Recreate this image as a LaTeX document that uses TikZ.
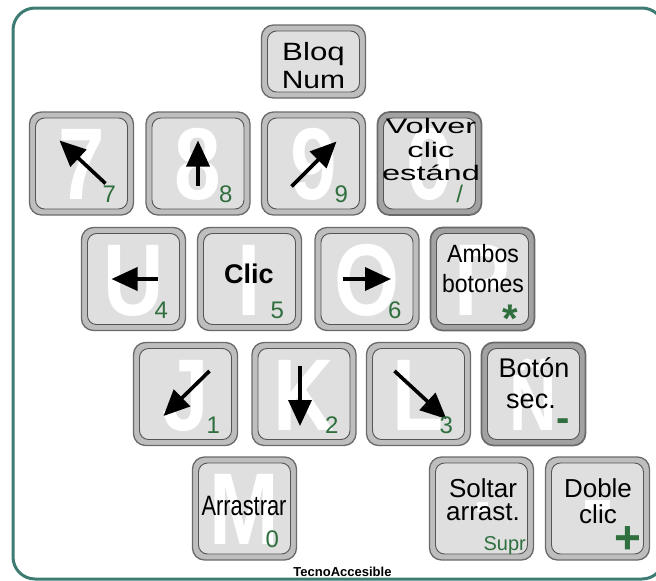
\documentclass[tikz,border=0pt]{standalone}
\usepackage{fontspec}
\setmainfont{Liberation Sans}
\usetikzlibrary{arrows.meta,calc}

\definecolor{frameteal}{HTML}{3E7B72}
\definecolor{keyedge}{HTML}{6A6A6A}
\definecolor{keyring}{HTML}{BEBEBE}
\definecolor{modering}{HTML}{A2A2A2}
\definecolor{keyface}{HTML}{DFDFDF}
\definecolor{numgreen}{HTML}{2F6F3E}

\begin{document}
\begin{tikzpicture}[x=1pt, y=-1pt,
    key/.style={draw=keyedge, fill=keyring, line width=1.3pt, rounded corners=12pt,
        minimum width=104pt, minimum height=103pt, inner sep=0pt},
    modekey/.style={key, fill=modering, line width=1.7pt},
    face/.style={draw=keyedge!80!black, fill=keyface, line width=0.9pt, rounded corners=9pt,
        minimum width=92pt, minimum height=91pt, inner sep=0pt},
    ghost/.style={text=white, font=\fontsize{102}{102}\selectfont\bfseries, xscale=0.82,
        anchor=base, inner sep=0pt},
    lab/.style={font=\fontsize{#1}{#1}\selectfont, anchor=base, inner sep=0pt},
    lab/.default=24,
    num/.style={text=numgreen, font=\fontsize{24}{24}\selectfont, anchor=base east, inner sep=0pt},
    sym/.style={text=numgreen, font=\fontsize{#1}{#1}\selectfont\bfseries, anchor=base, inner sep=0pt},
    dir/.style={line width=3.6pt, -{Triangle[length=26pt,width=23pt]}}
]

    \useasboundingbox (0,0) rectangle (656,581);

    % outer frame, runs past the right edge
    \draw[frameteal, line width=3pt, rounded corners=22pt] (13,8) rectangle (664,579);

    % Bloq Num key is lower than the others
    \node[key, minimum height=73pt] (bloq) at (313.5,61.5) {};
    \node[face, minimum height=61pt] (bloq-f) at (bloq) {};

    % plain keys: name / x / y / ghost letter
    \foreach \nm/\cx/\cy/\gl in {k7/81.5/163.5/7, k8/198/163.5/8, k9/313.5/163.5/9,
                                 k4/133.5/279/U, k5/249.5/279/I, k6/367/279/O,
                                 k1/185.5/394/J, k2/304/394/K, k3/418.5/394/L,
                                 k0/244.5/508.5/M, kdel/481.5/508.5/{}, kadd/597.5/508.5/{}}
    {
        \node[key] (\nm) at (\cx,\cy) {};
        \node[face] (\nm-f) at (\nm) {};
        \node[ghost] at ($(\nm)+(0,36)$) {\gl};
    }

    % mode keys on the right (darker ring)
    \foreach \nm/\cx/\cy/\gl in {kvol/429.5/163.5/0, kamb/482.5/279/P,
                                 kbot/533.5/394/{\fontsize{80}{80}\selectfont Ñ}}
    {
        \node[modekey] (\nm) at (\cx,\cy) {};
        \node[face] (\nm-f) at (\nm) {};
        \node[ghost] at ($(\nm)+(0,36)$) {\gl};
    }

    % bits of the "." and "-" ghost signs
    \fill[white] (477,502) rectangle (488,512);
    \fill[white] (585,500) rectangle (610,510);

    % pointer directions
    \foreach \nm/\ax/\ay/\bx/\by in {k7/24/20/-22/-23, k8/0/22/0/-23, k9/-22/23/23/-22,
                                     k4/24/0/-22/0, k6/-24/0/24/0,
                                     k1/24/-23/-22/22, k2/-4/-28/-4/32, k3/-24/-23/28/25}
        \draw[dir] ($(\nm)+(\ax,\ay)$) -- ($(\nm)+(\bx,\by)$);

    % green keypad numbers
    \foreach \nm/\d in {k7/7, k8/8, k9/9, k4/4, k5/5, k6/6, k1/1, k2/2, k3/3, k0/0}
        \node[num] at ($(\nm.south east)+(-18,-13)$) {\d};
    \node[num] (slash) at ($(kvol.south east)+(-19,-13)$) {/};
    \node[sym=40] (star) at (510,332) {*};
    \node[sym=40] (minus) at (563.5,431.5) {-};
    \node[sym=46] (plus) at (627.5,553.5) {+};
    \node[num, font=\fontsize{20}{20}\selectfont] (supr) at (526,550) {Supr};

    % key labels
    \node[lab=25, xscale=1.25] (bloq-a) at (313.5,60) {Bloq};
    \node[lab=25, xscale=1.2] (bloq-b) at (313.5,88) {Num};
    \node[lab=21, xscale=1.55] (vol-a) at (431,133) {Volver};
    \node[lab=21, xscale=1.55] (vol-b) at (431,157) {clic};
    \node[lab=21, xscale=1.55] (vol-c) at (431,180) {estánd};
    \node[lab=27, font=\fontsize{27}{27}\selectfont\bfseries] (clic) at (249,283) {Clic};
    \node[lab=25, xscale=0.92] (amb-a) at (483,262) {Ambos};
    \node[lab=25, xscale=0.92] (amb-b) at (483,292) {botones};
    \node[lab=27] (bot-a) at (534,377) {Botón};
    \node[lab=27] (bot-b) at (531,408) {sec.};
    \node[lab=28, xscale=0.78] (arr) at (244,515) {Arrastrar};
    \node[lab=26] (sol-a) at (483,497) {Soltar};
    \node[lab=26] (sol-b) at (483,520) {arrast.};
    \node[lab=26] (dob-a) at (598,497) {Doble};
    \node[lab=26] (dob-b) at (598,523) {clic};

    \node[lab=13, font=\fontsize{13}{13}\selectfont\bfseries] (brand) at (342.5,576) {TecnoAccesible};

\end{tikzpicture}
\end{document}
